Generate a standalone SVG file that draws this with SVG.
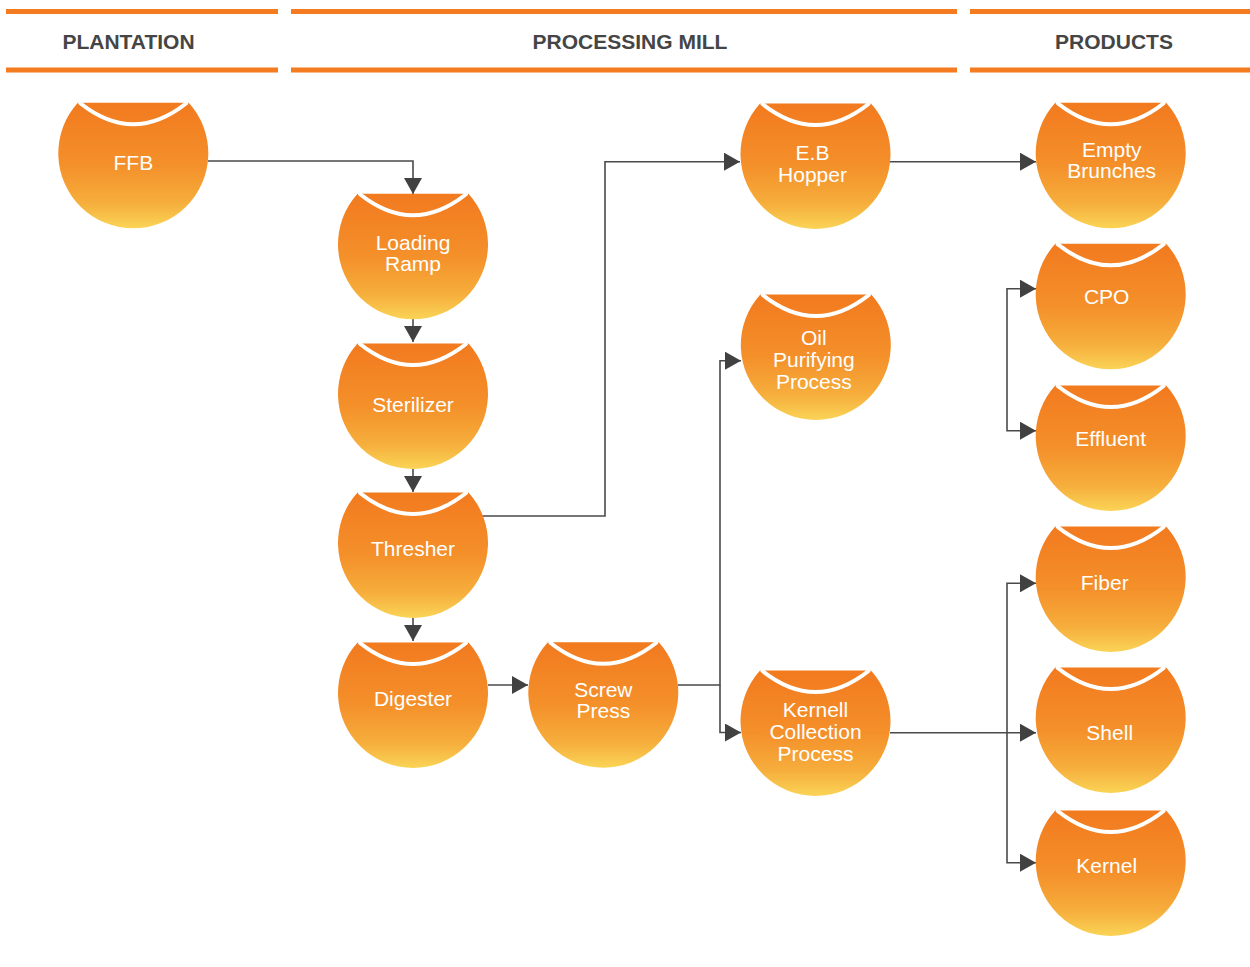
<svg xmlns="http://www.w3.org/2000/svg" width="1250" height="967" viewBox="0 0 1250 967">
<style>
.bar{fill:#F47B20}
.hdr{font-family:"Liberation Sans",Arial,sans-serif;font-weight:bold;font-size:21px;fill:#454545;text-anchor:middle}
.lbl{font-family:"Liberation Sans",Arial,sans-serif;font-size:21px;fill:#ffffff;text-anchor:middle}
.body{fill:url(#grad)}
.smile{fill:none;stroke:#ffffff;stroke-width:4;stroke-linecap:round}
.conn{fill:none;stroke:#4a4a4a;stroke-width:1.6}
</style>
<defs>
<linearGradient id="grad" x1="0" y1="0" x2="0" y2="1">
<stop offset="0" stop-color="#F27A1F"/>
<stop offset="0.5" stop-color="#F4902A"/>
<stop offset="0.8" stop-color="#F6AE3C"/>
<stop offset="1" stop-color="#FAD456"/>
</linearGradient>
<g id="node">
<path class="body" d="M-55.45,-50.5 A75,75 0 1 0 55.45,-50.5 Z"/>
<path class="smile" d="M-53,-50 Q0,-8 53,-50"/>
</g>
<marker id="arr" markerUnits="userSpaceOnUse" markerWidth="17" markerHeight="18" refX="16" refY="9" orient="auto">
<path d="M0,0 L16,9 L0,18 Z" fill="#414141"/>
</marker>
</defs>
<rect width="1250" height="967" fill="#ffffff"/>
<g id="header">
<rect class="bar" x="6" y="9" width="272" height="5"/>
<rect class="bar" x="6" y="67.5" width="272" height="5"/>
<rect class="bar" x="291" y="9" width="666" height="5"/>
<rect class="bar" x="291" y="67.5" width="666" height="5"/>
<rect class="bar" x="970" y="9" width="280" height="5"/>
<rect class="bar" x="970" y="67.5" width="280" height="5"/>
<text class="hdr" x="128.5" y="49">PLANTATION</text>
<text class="hdr" x="630" y="49">PROCESSING MILL</text>
<text class="hdr" x="1114" y="49">PRODUCTS</text>
</g>
<g id="connectors">
<path class="conn" marker-end="url(#arr)" d="M208,161 H413 V194"/>
<path class="conn" marker-end="url(#arr)" d="M413,319 V342"/>
<path class="conn" marker-end="url(#arr)" d="M413,469 V492"/>
<path class="conn" marker-end="url(#arr)" d="M413,618 V641"/>
<path class="conn" marker-end="url(#arr)" d="M482,516 H605 V161.7 H740"/>
<path class="conn" marker-end="url(#arr)" d="M488,685 H528"/>
<path class="conn" marker-end="url(#arr)" d="M678,685 H720 V360.7 H741"/>
<path class="conn" marker-end="url(#arr)" d="M720,685 V732.5 H741"/>
<path class="conn" marker-end="url(#arr)" d="M890,161.7 H1036"/>
<path class="conn" marker-end="url(#arr)" d="M1007,360 V288.7 H1036"/>
<path class="conn" marker-end="url(#arr)" d="M1007,360 V430.7 H1036"/>
<path class="conn" marker-end="url(#arr)" d="M890,732.7 H1036"/>
<path class="conn" marker-end="url(#arr)" d="M1007,732.7 V583.3 H1036"/>
<path class="conn" marker-end="url(#arr)" d="M1007,732.7 V862.7 H1036"/>
</g>
<g id="ffb" transform="translate(133.3,153.3)"><use href="#node"/><text class="lbl" x="0" y="16.5">FFB</text></g>
<g id="loading-ramp" transform="translate(413,244.3)"><use href="#node"/><text class="lbl" x="0" y="5.8">Loading</text><text class="lbl" x="0" y="27">Ramp</text></g>
<g id="sterilizer" transform="translate(413,394)"><use href="#node"/><text class="lbl" x="0" y="17.5">Sterilizer</text></g>
<g id="thresher" transform="translate(413,543)"><use href="#node"/><text class="lbl" x="0" y="12.5">Thresher</text></g>
<g id="digester" transform="translate(413,693)"><use href="#node"/><text class="lbl" x="0" y="12.5">Digester</text></g>
<g id="screw-press" transform="translate(603.3,692.7)"><use href="#node"/><text class="lbl" x="0" y="4">Screw</text><text class="lbl" x="0" y="25.6">Press</text></g>
<g id="eb-hopper" transform="translate(815.5,154)"><use href="#node"/><text class="lbl" x="-3" y="6">E.B</text><text class="lbl" x="-3" y="28">Hopper</text></g>
<g id="oil-purifying" transform="translate(815.8,345)"><use href="#node"/><text class="lbl" x="-2" y="0">Oil</text><text class="lbl" x="-2" y="22">Purifying</text><text class="lbl" x="-2" y="44">Process</text></g>
<g id="kernell-collection" transform="translate(815.5,721)"><use href="#node"/><text class="lbl" x="0" y="-4">Kernell</text><text class="lbl" x="0" y="18">Collection</text><text class="lbl" x="0" y="40">Process</text></g>
<g id="empty-brunches" transform="translate(1110.7,153.3)"><use href="#node"/><text class="lbl" x="1" y="3.4">Empty</text><text class="lbl" x="1" y="25">Brunches</text></g>
<g id="cpo" transform="translate(1110.7,294.3)"><use href="#node"/><text class="lbl" x="-4" y="9.7">CPO</text></g>
<g id="effluent" transform="translate(1110.7,436)"><use href="#node"/><text class="lbl" x="0" y="10">Effluent</text></g>
<g id="fiber" transform="translate(1110.7,577)"><use href="#node"/><text class="lbl" x="-6" y="12.5">Fiber</text></g>
<g id="shell" transform="translate(1110.7,718)"><use href="#node"/><text class="lbl" x="-1" y="21.5">Shell</text></g>
<g id="kernel" transform="translate(1110.7,861)"><use href="#node"/><text class="lbl" x="-4" y="11.5">Kernel</text></g>
</svg>
